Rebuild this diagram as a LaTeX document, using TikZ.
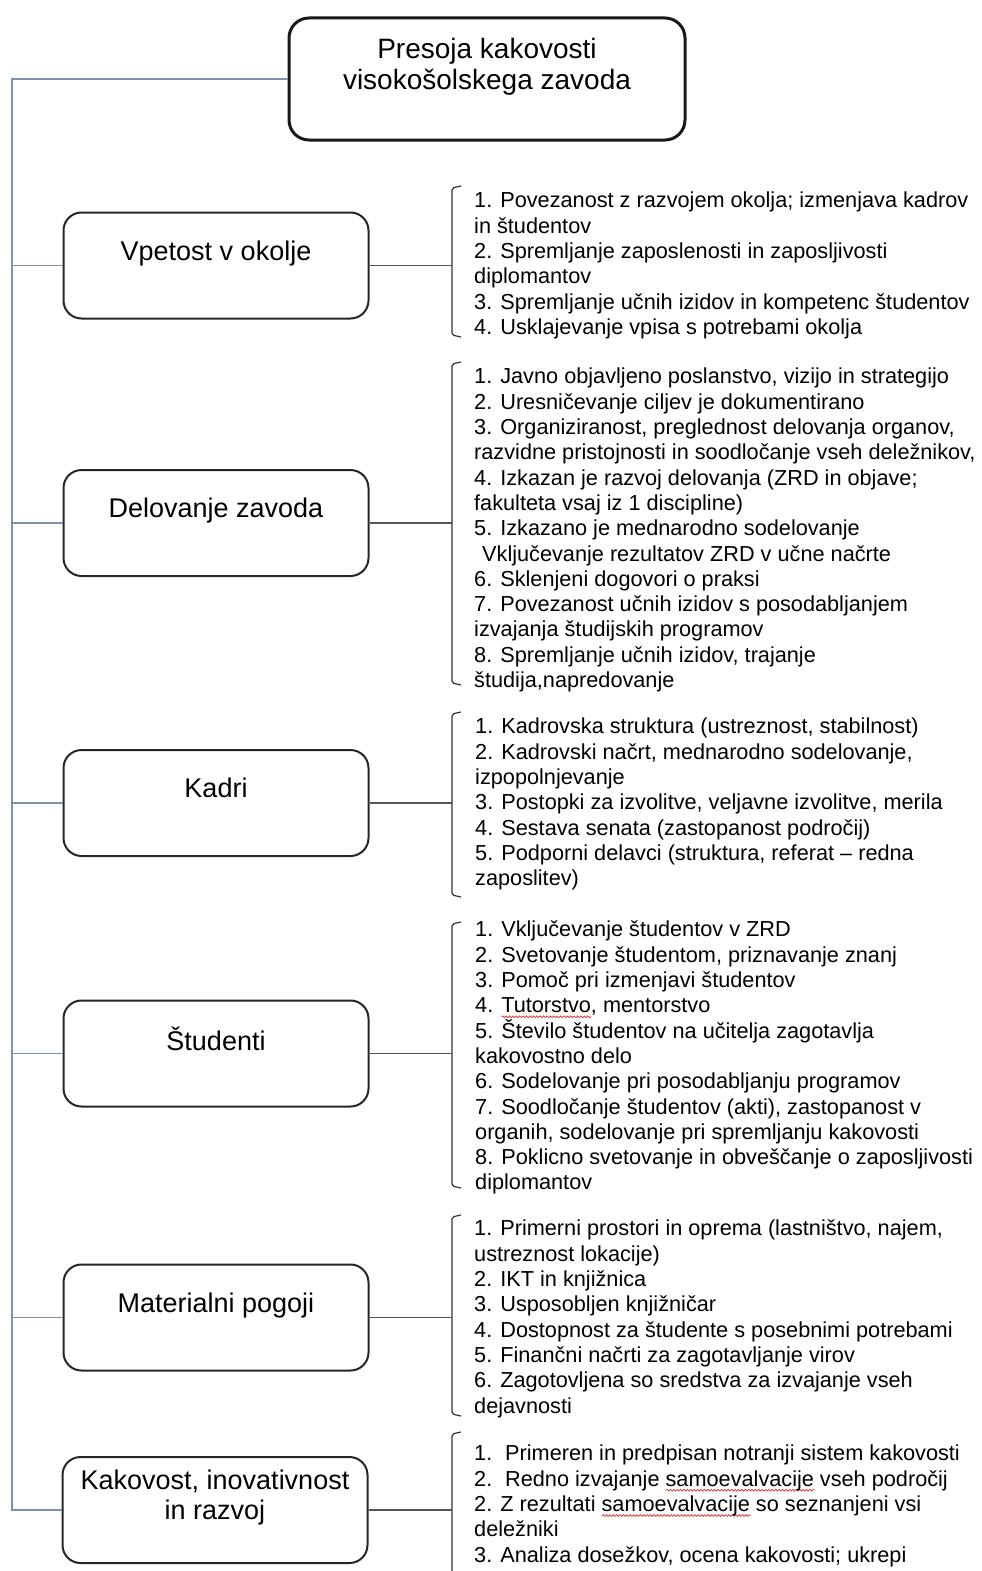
\documentclass[tikz,border=0pt]{standalone}
\usepackage{fontspec}
\setmainfont{Liberation Sans}
\usetikzlibrary{positioning,decorations.pathmorphing}
\definecolor{trunkblue}{RGB}{125,145,170}
\definecolor{linkgray}{RGB}{85,85,85}
\definecolor{wavered}{RGB}{215,45,45}
\newcommand{\areafont}{\fontsize{27}{30}\selectfont}
\newcommand{\critfont}{\fontsize{21.7}{25.3}\selectfont}
% red spell-check wave under a word
\newcommand{\spellwave}[1]{\setbox0\hbox{#1}\rlap{\smash{\tikz[baseline=0pt]\draw[wavered,line width=0.7pt,decorate,decoration={snake,amplitude=0.9pt,segment length=3.4pt}] (0pt,-4pt) -- (\the\wd0,-4pt);}}#1}

\begin{document}
\begin{tikzpicture}[x=1pt,y=-1pt,
        topbox/.style={draw=black!90,line width=3pt,rounded corners=20pt,minimum width=396pt,minimum height=122pt,align=center,font=\fontsize{28}{31}\selectfont},
        areabox/.style={draw=black!85,line width=2pt,rounded corners=18pt,minimum width=305pt,minimum height=106pt,align=center,font=\areafont},
        critlist/.style={anchor=north west,inner sep=0pt,align=left,font=\critfont},
        trunk/.style={draw=trunkblue,line width=1.5pt},
        link/.style={draw=linkgray,line width=1.5pt},
        brack/.style={draw=black!80,line width=1.2pt,rounded corners=2pt}]
\useasboundingbox (0,0) rectangle (982,1571);
\clip (0,0) rectangle (982,1571);

\node[topbox] (root) at (487,79) {Presoja kakovosti\\visokošolskega zavoda\\~};

% the six areas
\node[areabox] (b1) at (216,265.5) {Vpetost v okolje\\~};
\node[areabox] (b2) at (216,523) {Delovanje zavoda\\~};
\node[areabox] (b3) at (216,803) {Kadri\\~};
\node[areabox] (b4) at (216,1053.5) {Študenti\\~};
\node[areabox] (b5) at (216,1317.5) {Materialni pogoji\\~};
\node[areabox] (b6) at (215,1510) {Kakovost, inovativnost\\in razvoj\\~};

% criteria lists
\node[critlist] (l1) at (474,190) {\strut 1. Povezanost z razvojem okolja; izmenjava kadrov\\
in študentov\\
2. Spremljanje zaposlenosti in zaposljivosti\\
diplomantov\\
3. Spremljanje učnih izidov in kompetenc študentov\\
4. Usklajevanje vpisa s potrebami okolja};
\node[critlist] (l2) at (474,366) {\strut 1. Javno objavljeno poslanstvo, vizijo in strategijo\\
2. Uresničevanje ciljev je dokumentirano\\
3. Organiziranost, preglednost delovanja organov,\\
razvidne pristojnosti in soodločanje vseh deležnikov,\\
4. Izkazan je razvoj delovanja (ZRD in objave;\\
fakulteta vsaj iz 1 discipline)\\
5. Izkazano je mednarodno sodelovanje\\
\hspace*{8pt}Vključevanje rezultatov ZRD v učne načrte\\
6. Sklenjeni dogovori o praksi\\
7. Povezanost učnih izidov s posodabljanjem\\
izvajanja študijskih programov\\
8. Spremljanje učnih izidov, trajanje\\
študija,napredovanje};
\node[critlist] (l3) at (475,716) {\strut 1. Kadrovska struktura (ustreznost, stabilnost)\\
2. Kadrovski načrt, mednarodno sodelovanje,\\
izpopolnjevanje\\
3. Postopki za izvolitve, veljavne izvolitve, merila\\
4. Sestava senata (zastopanost področij)\\
5. Podporni delavci (struktura, referat -- redna\\
zaposlitev)};
\node[critlist] (l4) at (475,919) {\strut 1. Vključevanje študentov v ZRD\\
2. Svetovanje študentom, priznavanje znanj\\
3. Pomoč pri izmenjavi študentov\\
4. \spellwave{Tutorstvo}, mentorstvo\\
5. Število študentov na učitelja zagotavlja\\
kakovostno delo\\
6. Sodelovanje pri posodabljanju programov\\
7. Soodločanje študentov (akti), zastopanost v\\
organih, sodelovanje pri spremljanju kakovosti\\
8. Poklicno svetovanje in obveščanje o zaposljivosti\\
diplomantov};
\node[critlist] (l5) at (474,1218) {\strut 1. Primerni prostori in oprema (lastništvo, najem,\\
ustreznost lokacije)\\
2. IKT in knjižnica\\
3. Usposobljen knjižničar\\
4. Dostopnost za študente s posebnimi potrebami\\
5. Finančni načrti za zagotavljanje virov\\
6. Zagotovljena so sredstva za izvajanje vseh\\
dejavnosti};
\node[critlist] (l6) at (474,1443) {\strut\makebox[31pt][l]{1.}Primeren in predpisan notranji sistem kakovosti\\
\makebox[31pt][l]{2.}Redno izvajanje \spellwave{samoevalvacije} vseh področij\\
2. Z rezultati \spellwave{samoevalvacije} so seznanjeni vsi\\
deležniki\\
3. Analiza dosežkov, ocena kakovosti; ukrepi};

% trunk on the left
\coordinate (t0) at (12,0 |- root.west);
\draw[trunk] (root.west) -- (t0) |- (b6.west);
\foreach \n in {1,...,5}
  \draw[trunk] (t0 |- b\n.west) -- (b\n.west);

% brackets: top/bottom of each list
\foreach \n/\t/\b in {1/186/337,2/362/685,3/712/897,4/922/1188,5/1215/1416,6/1432/1600}{
  \coordinate (k\n) at (452,0 |- b\n.east);
  \draw[brack] (461,\t) -- (452,\t+2) -- (452,\b-2) -- (461,\b);
  \draw[link] (b\n.east) -- (k\n);
}
\end{tikzpicture}
\end{document}
